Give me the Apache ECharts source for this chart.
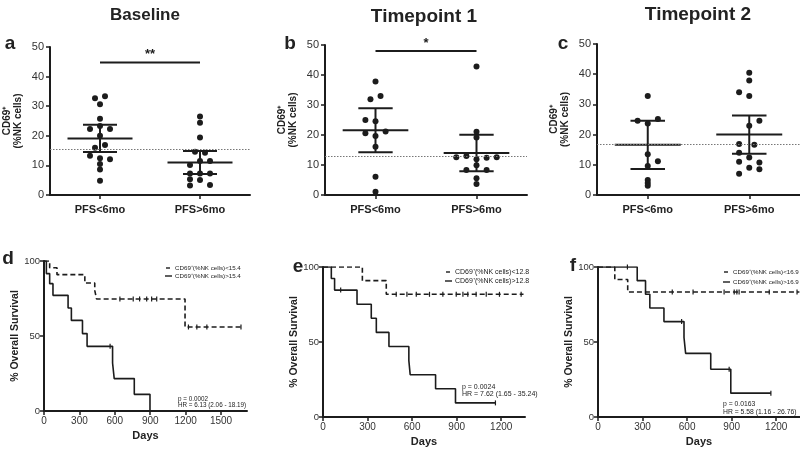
<!DOCTYPE html>
<html><head><meta charset="utf-8">
<script src="https://cdn.jsdelivr.net/npm/echarts@6/dist/echarts.min.js"></script>
<style>html,body{margin:0;padding:0;background:#fff}#c{width:800px;height:449px}</style>
</head><body><div id="c"></div>
<script>
const FONT = '"Liberation Sans", Arial, Helvetica, sans-serif';
const INK = '#1c1c1c';

// ---------- top row: dot plots ----------
const panelTitles = ['Baseline', 'Timepoint 1', 'Timepoint 2'];
const groupLabels = ['PFS<6mo', 'PFS>6mo'];
const groupPos = [1, 3];
const yTicksTop = [0, 10, 20, 30, 40, 50];

// Baseline
const aShortVals = [33.4, 32.7, 30.7, 25.8, 23.3, 22.3, 22.3, 20.0, 16.9, 16.0, 13.3, 12.4, 12.1, 10.5, 8.6, 4.8];
const aShortJit  = [0.1, -0.1, 0, 0, 0, -0.2, 0.2, 0, 0.1, -0.1, -0.2, 0, 0.2, 0, 0, 0];
const aLongVals  = [26.5, 24.4, 19.4, 14.6, 14.3, 11.5, 11.5, 10.1, 7.3, 7.3, 7.3, 5.3, 5.1, 3.2, 3.4];
const aLongJit   = [0, 0, 0, -0.1, 0.1, 0, 0.2, -0.2, -0.2, 0, 0.2, -0.2, 0, -0.2, 0.2];
const aMean = [19.1, 11.0];
const aErr  = [4.6, 3.9];

// Timepoint 1
const bShortVals = [37.8, 31.9, 33.0, 25.0, 24.6, 20.6, 19.7, 21.2, 16.1, 6.1, 1.1];
const bShortJit  = [0, -0.1, 0.1, -0.2, 0, -0.2, 0, 0.2, 0, 0, 0];
const bLongVals  = [42.8, 21.1, 19.2, 12.6, 13.0, 11.9, 12.4, 12.6, 9.9, 8.3, 8.3, 5.6, 3.7];
const bLongJit   = [0, 0, 0, -0.4, -0.2, 0, 0.2, 0.4, 0, -0.2, 0.2, 0, 0];
const bMean = [21.6, 14.0];
const bErr  = [7.35, 6.05];

// Timepoint 2
const cShortVals = [32.8, 24.6, 25.2, 23.7, 13.5, 11.2, 9.6, 5.0, 4.0, 3.1];
const cShortJit  = [0, -0.2, 0.2, 0, 0, 0.2, 0, 0, 0, 0];
const cLongVals  = [40.5, 37.9, 34.0, 32.8, 24.6, 22.9, 16.9, 16.6, 14.0, 12.4, 11.0, 10.8, 9.0, 8.5, 7.0];
const cLongJit   = [0, 0, -0.2, 0, 0.2, 0, -0.2, 0.1, -0.2, 0, -0.2, 0.2, 0, 0.2, -0.2];
const cMean = [16.6, 20.0];
const cErr  = [7.95, 6.35];

const thresholds = [15.4, 12.8, 16.9];
const sigLevels = [44.8, 48.0, null];
const sigMarks  = ['**', '*', null];

// ---------- bottom row: Kaplan-Meier ----------
const kmTicksD = [0, 300, 600, 900, 1200, 1500];
const kmTicksEF = [0, 300, 600, 900, 1200];
const kmYTicks = [0, 50, 100];

const dLowDays  = [0, 48, 110, 346, 430, 445, 1195, 1669];
const dLowSurv  = [100, 95.5, 90.9, 85.3, 80.4, 74.7, 56.0, 56.0];
const dLowCens  = [643, 756, 810, 870, 912, 955, 1224, 1295, 1380, 1669];
const dHighDays = [0, 20, 48, 76, 204, 232, 326, 365, 581, 595, 765, 898];
const dHighSurv = [100, 91.6, 84.9, 77.1, 68.7, 60.4, 51.6, 43.1, 32.0, 21.6, 11.1, 0];
const dHighCens = [560];

const eLowDays  = [0, 265, 426, 1350];
const eLowSurv  = [100, 90.9, 81.8, 81.8];
const eLowCens  = [493, 565, 628, 717, 807, 897, 942, 975, 1031, 1099, 1188, 1334];
const eHighDays = [0, 56, 78, 229, 325, 359, 444, 578, 587, 758, 892, 1161];
const eHighSurv = [100, 92.3, 84.6, 75.2, 65.8, 56.4, 47.0, 37.6, 28.2, 18.8, 9.4, 9.4];
const eHighCens = [119, 1161];

const fLowDays  = [0, 113, 200, 1356];
const fLowSurv  = [100, 91.7, 83.3, 83.3];
const fLowCens  = [500, 640, 849, 917, 935, 950, 1153, 1340];
const fHighDays = [0, 264, 320, 349, 444, 579, 590, 759, 894, 1164];
const fHighSurv = [100, 90.9, 81.8, 72.7, 63.6, 53.0, 42.4, 31.8, 15.9, 15.9];
const fHighCens = [198, 563, 883, 1164];

const kmCutoffs = ['15.4', '12.8', '16.9'];
const kmStats = [
  ['p = 0.0002', 'HR = 6.13 (2.06 - 18.19)'],
  ['p = 0.0024', 'HR = 7.62 (1.65 - 35.24)'],
  ['p = 0.0163', 'HR = 5.58 (1.16 - 26.76)']
];

// ---------- helpers ----------
const pts = (vals, jit, c) => vals.map((v, i) => [c + jit[i], v]);
const steps = (days, surv) => days.map((d, i) => [d, surv[i]]);
const survAt = (days, surv, t) => { let s = surv[0]; for (let i = 0; i < days.length; i++) if (days[i] <= t) s = surv[i]; return s; };
const cens = (days, surv, ts) => ts.map(t => [t, survAt(days, surv, t)]);

const MEAN_HALF = 0.65, CAP_HALF = 0.34;
function renderBars(params, api) {
  const c = api.value(0), m = api.value(1), e = api.value(2);
  const p = (x, y) => api.coord([x, y]);
  const L = (a, b) => ({ type: 'line', shape: { x1: a[0], y1: a[1], x2: b[0], y2: b[1] }, style: { stroke: INK, lineWidth: 2 } });
  return { type: 'group', children: [
    L(p(c - MEAN_HALF, m), p(c + MEAN_HALF, m)),
    L(p(c, m - e), p(c, m + e)),
    L(p(c - CAP_HALF, m + e), p(c + CAP_HALF, m + e)),
    L(p(c - CAP_HALF, m - e), p(c + CAP_HALF, m - e))
  ]};
}
function renderSig(params, api) {
  const a = api.coord([api.value(0), api.value(2)]);
  const b = api.coord([api.value(1), api.value(2)]);
  const mark = sigMarks[api.value(3)];
  return { type: 'group', children: [
    { type: 'line', shape: { x1: a[0], y1: a[1], x2: b[0], y2: b[1] }, style: { stroke: INK, lineWidth: 2 } },
    { type: 'text', x: (a[0] + b[0]) / 2, y: a[1] - 1, style: { text: mark, fontSize: 13, fontWeight: 'bold', fontFamily: FONT, fill: INK, align: 'center', verticalAlign: 'bottom' } }
  ]};
}

const topGrids = [
  { left: 50, top: 47, width: 200, height: 148 },
  { left: 325, top: 45, width: 202, height: 150 },
  { left: 597, top: 44, width: 203, height: 151 }
];
const kmGrids = [
  { left: 44, top: 261, width: 203, height: 150 },
  { left: 323, top: 267, width: 202, height: 150 },
  { left: 598, top: 267, width: 202, height: 150 }
];
const kmMax = [1720, 1360, 1360];
const kmNameGap = [19, 20, 12];

const grids = topGrids.concat(kmGrids).map(g => Object.assign({ outerBoundsMode: 'none', containLabel: false }, g));

const xAxes = [], yAxes = [];
const axisLine = { show: true, onZero: false, lineStyle: { color: INK, width: 2 } };
for (let i = 0; i < 3; i++) {
  xAxes.push({
    gridIndex: i, type: 'value', min: 0, max: 4,
    axisLine, splitLine: { show: false },
    axisTick: { show: true, customValues: groupPos, length: 4, lineStyle: { color: INK, width: 1.5 } },
    axisLabel: { customValues: groupPos, formatter: v => groupLabels[groupPos.indexOf(v)] || '', color: '#222', fontSize: 11, fontWeight: 'bold', fontFamily: FONT, margin: 9 }
  });
  yAxes.push({
    gridIndex: i, type: 'value', min: 0, max: 50, interval: 10,
    axisLine, splitLine: { show: false },
    axisTick: { show: true, customValues: yTicksTop, length: 4, lineStyle: { color: INK, width: 1.5 } },
    axisLabel: { customValues: yTicksTop, formatter: v => String(v), color: '#333', fontSize: 11, fontFamily: FONT, margin: 6 },
    name: 'CD69\u207A\n(%NK cells)', nameLocation: 'middle', nameRotate: 90, nameGap: 26,
    nameTextStyle: { color: '#222', fontSize: 10, fontWeight: 'bold', fontFamily: FONT, lineHeight: 11 }
  });
}
for (let i = 0; i < 3; i++) {
  const ticks = i === 0 ? kmTicksD : kmTicksEF;
  xAxes.push({
    gridIndex: 3 + i, type: 'value', min: 0, max: kmMax[i],
    axisLine, splitLine: { show: false },
    axisTick: { show: true, customValues: ticks, length: 4, lineStyle: { color: INK, width: 1.5 } },
    axisLabel: { customValues: ticks, formatter: v => String(v), color: '#333', fontSize: 10, fontFamily: FONT, margin: 5 },
    name: 'Days', nameLocation: 'middle', nameGap: 19,
    nameTextStyle: { color: '#222', fontSize: 11, fontWeight: 'bold', fontFamily: FONT }
  });
  yAxes.push({
    gridIndex: 3 + i, type: 'value', min: 0, max: 100,
    axisLine, splitLine: { show: false },
    axisTick: { show: true, customValues: kmYTicks, length: 4, lineStyle: { color: INK, width: 1.5 } },
    axisLabel: { customValues: kmYTicks, formatter: v => String(v), color: '#333', fontSize: 9.5, fontFamily: FONT, margin: 4 },
    name: '% Overall Survival', nameLocation: 'middle', nameRotate: 90, nameGap: kmNameGap[i],
    nameTextStyle: { color: '#222', fontSize: 10.5, fontWeight: 'bold', fontFamily: FONT }
  });
}

const series = [];
const dot = { symbol: 'circle', symbolSize: 6, itemStyle: { color: INK, opacity: 1 } };
const topData = [
  [pts(aShortVals, aShortJit, groupPos[0]), pts(aLongVals, aLongJit, groupPos[1]), aMean, aErr],
  [pts(bShortVals, bShortJit, groupPos[0]), pts(bLongVals, bLongJit, groupPos[1]), bMean, bErr],
  [pts(cShortVals, cShortJit, groupPos[0]), pts(cLongVals, cLongJit, groupPos[1]), cMean, cErr]
];
topData.forEach((d, i) => {
  series.push({ type: 'custom', xAxisIndex: i, yAxisIndex: i, renderItem: renderBars, clip: false, z: 3,
    data: groupPos.map((c, k) => [c, d[2][k], d[3][k]]) });
  series.push(Object.assign({ type: 'scatter', xAxisIndex: i, yAxisIndex: i, data: d[0].concat(d[1]), z: 4,
    markLine: { silent: true, symbol: 'none', label: { show: false }, animation: false,
      lineStyle: { type: [1.5, 1.5], color: '#777', width: 1 }, data: [{ yAxis: thresholds[i] }] } }, dot));
  if (sigLevels[i] !== null) {
    series.push({ type: 'custom', xAxisIndex: i, yAxisIndex: i, renderItem: renderSig, clip: false, z: 3,
      data: [[groupPos[0], groupPos[1], sigLevels[i], i]] });
  }
});

const kmData = [
  [dLowDays, dLowSurv, dLowCens, dHighDays, dHighSurv, dHighCens],
  [eLowDays, eLowSurv, eLowCens, eHighDays, eHighSurv, eHighCens],
  [fLowDays, fLowSurv, fLowCens, fHighDays, fHighSurv, fHighCens]
];
kmData.forEach((k, i) => {
  const ax = 3 + i;
  series.push({ type: 'line', step: 'end', xAxisIndex: ax, yAxisIndex: ax, showSymbol: false, data: steps(k[0], k[1]),
    lineStyle: { color: INK, width: 1.6, type: [5, 3] }, z: 3 });
  series.push({ type: 'line', step: 'end', xAxisIndex: ax, yAxisIndex: ax, showSymbol: false, data: steps(k[3], k[4]),
    lineStyle: { color: INK, width: 1.6 }, z: 3 });
  series.push({ type: 'scatter', xAxisIndex: ax, yAxisIndex: ax, symbol: 'rect', symbolSize: [1.2, 5],
    itemStyle: { color: INK, opacity: 1 }, data: cens(k[0], k[1], k[2]).concat(cens(k[3], k[4], k[5])), z: 4 });
});

// ---------- text decorations ----------
const T = (text, x, y, size, weight, align, extra) => ({ type: 'text', x, y, silent: true,
  style: Object.assign({ text, fontSize: size, fontWeight: weight || 'normal', fontFamily: FONT, fill: '#222', align: align || 'center', verticalAlign: 'middle' }, extra || {}) });
const graphic = [];
const titlePos = [[145, 15, 17], [424, 17, 19], [698, 15, 19]];
panelTitles.forEach((t, i) => graphic.push(T(t, titlePos[i][0], titlePos[i][1], titlePos[i][2], 'bold')));
const letters = [['a', 10, 44], ['b', 290, 44], ['c', 563, 44], ['d', 8, 259], ['e', 298, 267], ['f', 573, 266]];
letters.forEach(l => graphic.push(T(l[0], l[1], l[2], 19, 'bold')));

const legendPos = [[165, 268, 8, 6.2], [445, 272, 9, 7], [723, 272, 10, 6.2]];
legendPos.forEach((p, i) => {
  const [x, y, dy, fs] = p;
  graphic.push({ type: 'line', silent: true, shape: { x1: x + 1, y1: y, x2: x + 5, y2: y }, style: { stroke: INK, lineWidth: 1.4 } });
  graphic.push({ type: 'line', silent: true, shape: { x1: x, y1: y + dy, x2: x + 7, y2: y + dy }, style: { stroke: INK, lineWidth: 1.4 } });
  graphic.push(T('CD69\u207A(%NK cells)<' + kmCutoffs[i], x + 10, y, fs, 'normal', 'left'));
  graphic.push(T('CD69\u207A(%NK cells)>' + kmCutoffs[i], x + 10, y + dy, fs, 'normal', 'left'));
});
const statPos = [[178, 399, 6, 6.3], [462, 387, 7, 7], [723, 404, 8, 6.8]];
statPos.forEach((p, i) => {
  graphic.push(T(kmStats[i][0], p[0], p[1], p[3], 'normal', 'left'));
  graphic.push(T(kmStats[i][1], p[0], p[1] + p[2], p[3], 'normal', 'left'));
});

const chart = echarts.init(document.getElementById('c'), null, { renderer: 'canvas' });
chart.setOption({
  animation: false,
  backgroundColor: '#fff',
  grid: grids, xAxis: xAxes, yAxis: yAxes, series, graphic
});
</script></body></html>
